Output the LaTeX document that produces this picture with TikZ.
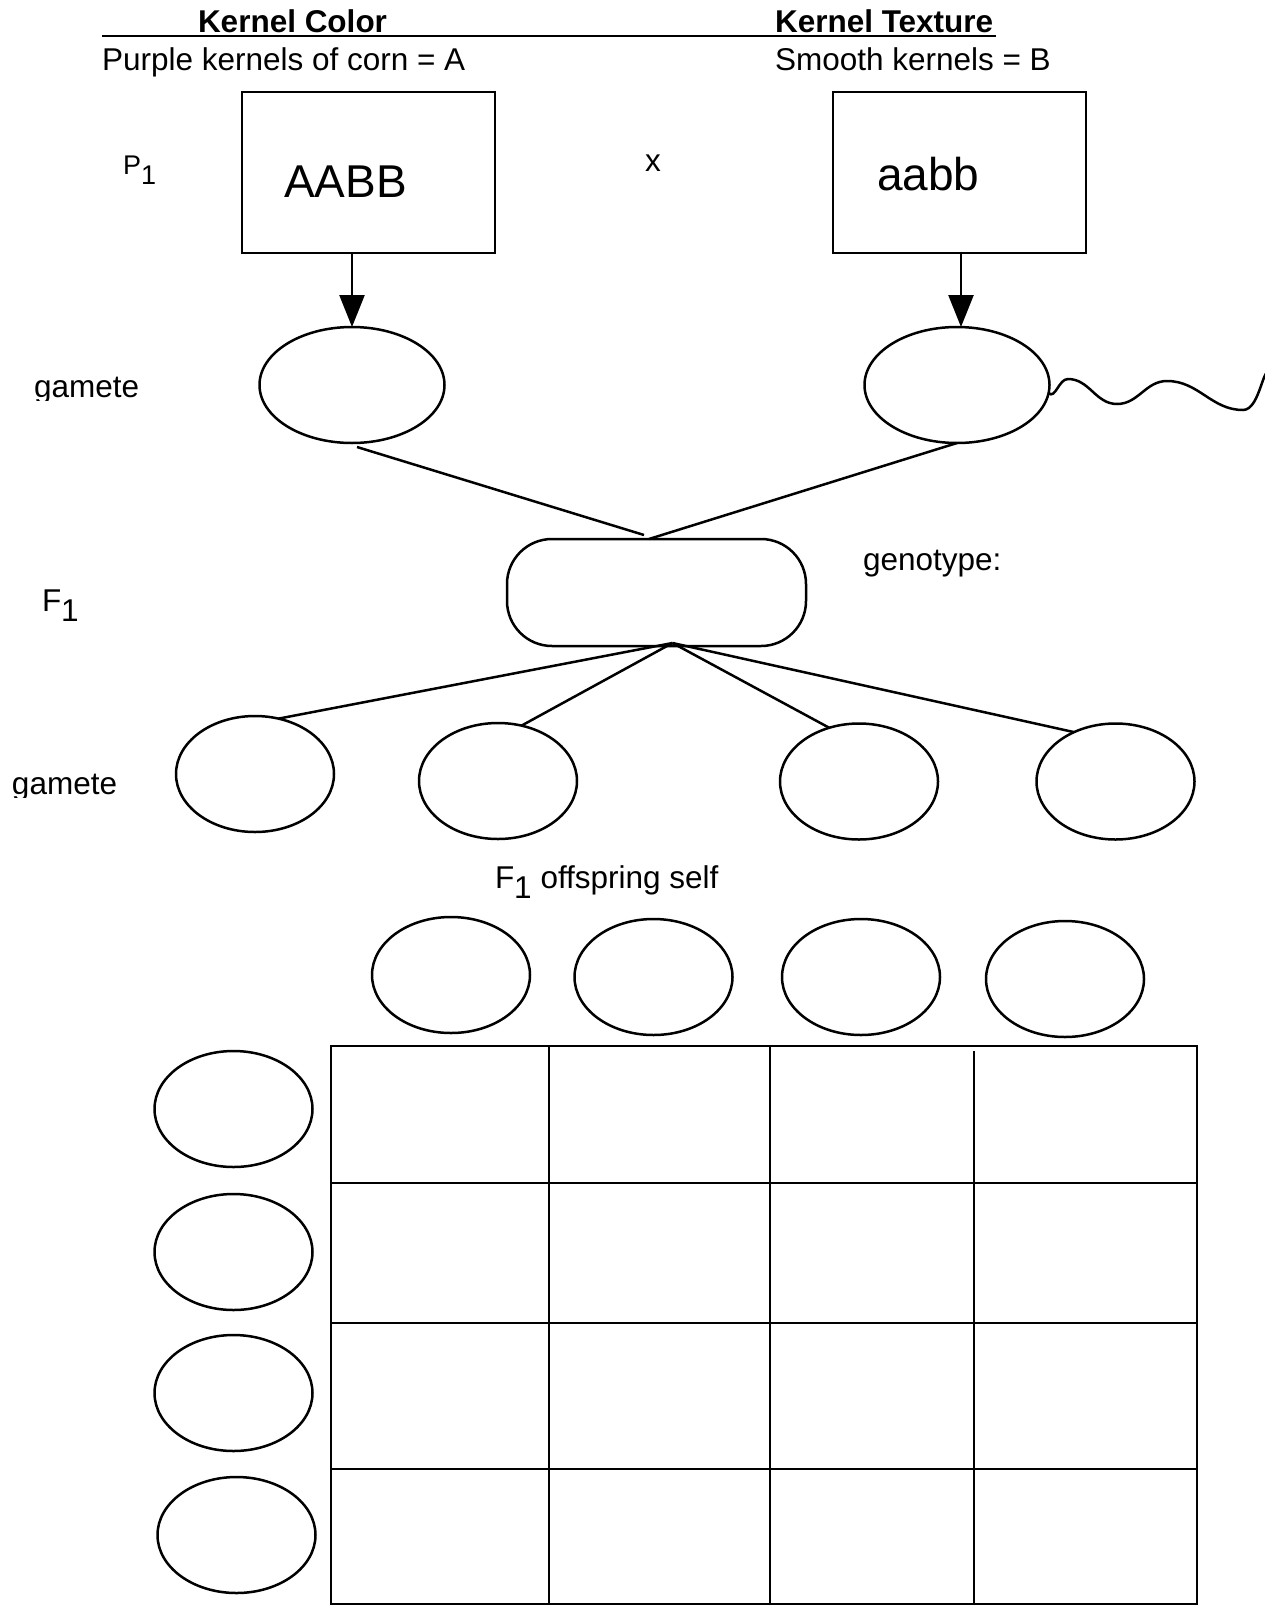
\documentclass[tikz,border=0pt]{standalone}
\usepackage{fontspec}
\setmainfont{Liberation Sans}
\usetikzlibrary{shapes.geometric,arrows.meta,calc}
\newcommand{\lowsub}[1]{\raisebox{-10pt}{#1}}
\begin{document}
\begin{tikzpicture}[x=1pt, y=-1pt, line width=2.5pt]
            \tikzstyle{every node} = [inner sep=0pt, outer sep=0pt]
            \tikzstyle{txt} = [anchor=base west, font=\fontsize{31.5}{36}\selectfont]
            \tikzstyle{hdr} = [anchor=base west, font=\bfseries\fontsize{31.5}{36}\selectfont]
            \tikzstyle{small} = [anchor=base west, font=\fontsize{27}{31}\selectfont]
            \tikzstyle{big} = [anchor=base west, font=\fontsize{46}{52}\selectfont]
            \tikzstyle{parent} = [draw, minimum width=253pt, minimum height=161pt]
            \tikzstyle{pgam} = [draw, ellipse, minimum width=185pt, minimum height=116pt]
            \tikzstyle{gam} = [draw, ellipse, minimum width=158pt, minimum height=116pt]
            \tikzstyle{arrow} = [-{Triangle[width=25pt, length=32pt]}]
            \useasboundingbox (0,0) rectangle (1264,1606);

            \node[hdr](kc) at (198,32.5){Kernel Color};
            \node[hdr](kt) at (775,32.5){Kernel Texture};
            \draw[line width=1.8pt] (102,36) -- (996,36);
            \node[txt](pa) at (102,70.5){Purple kernels of corn = A};
            \node[txt](sb) at (775,70.5){Smooth kernels = B};

            \node[small](p1) at (123,174){P\lowsub{1}};
            \node[parent](pl) at (368.5,172.5){};
            \node[parent](pr) at (959.5,172.5){};
            \node[big](ta) at (284,197){AABB};
            \node[big](tb) at (877,190){aabb};
            \node[txt](cross) at (645,171){x};

            \node[pgam](lg) at (352,385){};
            \node[pgam](rg) at (957,385){};
            \draw[arrow] (lg.north |- pl.south) -- (lg.north);
            \draw[arrow] ($(rg.north |- pr.south)+(4,0)$) -- ($(rg.north)+(4,0)$);
            \coordinate(tail) at (1272,374);
            \draw (rg.-5) to[out=-45,in=180] (1068,379) to[out=0,in=180] (1117,404)
                to[out=0,in=180] (1167,381) to[out=0,in=180] (1243,410) to[out=0,in=120] (tail);

            \begin{scope}
            \clip (0,0) rectangle (300,400);
            \node[txt](gl1) at (34,397){gamete};
            \end{scope}

            \node[draw, rounded corners=45pt, minimum width=299pt, minimum height=107pt](f1) at (656.5,592.5){};
            \node[txt](f1l) at (42,611){F\lowsub{1}};
            \node[txt](gen) at (863,570){genotype:};
            \draw ($(lg.south)+(5,4)$) -- ($(f1.north)+(-12.5,-4)$);
            \draw (rg.south) -- ($(f1.north)+(-7.5,0)$);

            \coordinate(fb) at ($(f1.south)+(16,-3)$);
            \node[gam](g1) at (255,774){};
            \node[gam](g2) at (498,781){};
            \node[gam](g3) at (859,781.5){};
            \node[gam](g4) at (1115.5,781.5){};
            \path (fb) edge (g1.67) edge (g2.67) edge (g3.119) edge (g4.130);

            \begin{scope}
            \clip (0,700) rectangle (300,797);
            \node[txt](gl2) at (12,794){gamete};
            \end{scope}

            \node[txt](self) at (495,888){F\lowsub{1} offspring self};

            \node[gam](c1) at (451,975){};
            \node[gam](c2) at (653.5,977){};
            \node[gam](c3) at (861,977){};
            \node[gam](c4) at (1065,979){};

            \node[gam](r1) at (233.5,1109){};
            \node[gam](r2) at (233.5,1252){};
            \node[gam](r3) at (233.5,1393){};
            \node[gam](r4) at (236.5,1535){};

            \draw (331,1046) rectangle (1197,1604);
            \draw (549,1046) -- (549,1604);
            \draw (770,1046) -- (770,1604);
            \draw (974,1051) -- (974,1604);
            \draw (331,1183) -- (1197,1183);
            \draw (331,1323) -- (1197,1323);
            \draw (331,1469) -- (1197,1469);
      \end{tikzpicture}
\end{document}
